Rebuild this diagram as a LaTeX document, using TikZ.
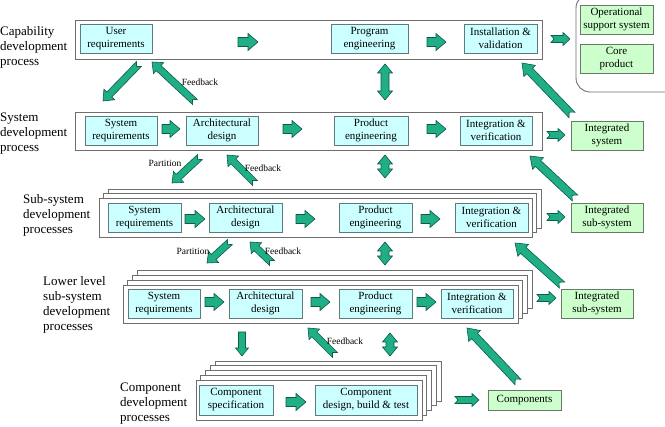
\documentclass[tikz,border=0pt]{standalone}
\usepackage{fontspec}
\setmainfont{Liberation Serif}
\usetikzlibrary{calc}
\definecolor{boxcyan}{HTML}{CCFFFF}
\definecolor{boxgreen}{HTML}{CCFFCC}
\definecolor{cyanline}{HTML}{5F7A7A}
\definecolor{greenline}{HTML}{6A786A}
\definecolor{arrowfill}{HTML}{1FAE85}
\definecolor{arrowline}{HTML}{0C5C46}
\definecolor{frameline}{HTML}{6E6E6E}
\tikzset{
  cbox/.style={draw=cyanline, fill=boxcyan, line width=0.9pt, minimum height=29pt, inner sep=0pt, align=center, font=\fontsize{11}{13}\selectfont},
  gbox/.style={draw=greenline, fill=boxgreen, line width=0.9pt, minimum height=29pt, inner sep=0pt, align=center, font=\fontsize{11}{13}\selectfont},
  frame/.style={draw=frameline, fill=white, line width=0.9pt, inner sep=0pt},
  fatarrow/.style={fill=arrowfill, draw=arrowline, line width=0.6pt, line join=miter},
  side/.style={anchor=west, align=left, font=\fontsize{13}{15}\selectfont, inner sep=0pt},
  fb/.style={font=\fontsize{9.5}{11}\selectfont, inner sep=0pt},
}
% start, end, body half width, head half width, head length, notch depth
\newcommand\FatArrow[6]{%
  \draw[fatarrow] ($(#1)!#3!90:(#2)$) -- ($(#2)!#5!(#1)!#3!-90:(#1)$) -- ($(#2)!#5!(#1)!#4!-90:(#1)$) -- (#2) -- ($(#2)!#5!(#1)!#4!90:(#1)$) -- ($(#2)!#5!(#1)!#3!90:(#1)$) -- ($(#1)!#3!-90:(#2)$) -- ($(#1)!#6!(#2)$) -- cycle;}
% start, end, body half width, head half width, head length
\newcommand\FatDouble[5]{%
  \draw[fatarrow] (#1) -- ($(#1)!#5!(#2)!#4!90:(#2)$) -- ($(#1)!#5!(#2)!#3!90:(#2)$) -- ($(#2)!#5!(#1)!#3!-90:(#1)$) -- ($(#2)!#5!(#1)!#4!-90:(#1)$) -- (#2) -- ($(#2)!#5!(#1)!#4!90:(#1)$) -- ($(#2)!#5!(#1)!#3!90:(#1)$) -- ($(#1)!#5!(#2)!#3!-90:(#2)$) -- ($(#1)!#5!(#2)!#4!-90:(#2)$) -- cycle;}
\newcommand\InArrow[2]{\FatArrow{#1}{#2}{4.5pt}{8.5pt}{10pt}{0pt}}
\newcommand\OutArrow[2]{\FatArrow{#1}{#2}{3.5pt}{6.5pt}{7pt}{3pt}}
\newcommand\DiagArrow[2]{\FatArrow{#1}{#2}{3.5pt}{7.5pt}{9pt}{3.5pt}}
\newcommand\BigArrow[2]{\FatArrow{#1}{#2}{4pt}{8pt}{11pt}{4pt}}
\newcommand\VDouble[2]{\FatDouble{#1}{#2}{4pt}{7.5pt}{9pt}}

\begin{document}
\begin{tikzpicture}[x=1pt, y=-1pt]
\useasboundingbox (0,0) rectangle (665,427);

% ---------- left labels ----------
\node[side] (l1) at (0,47) {Capability\\development\\process};
\node[side] (l2) at (0,133.5) {System\\development\\process};
\node[side] (l3) at (23,215.5) {Sub-system\\development\\processes};
\node[side] (l4) at (43,305) {Lower level\\sub-system\\development\\processes};
\node[side] (l5) at (120,404) {Component\\development\\processes};

% ---------- row 1 ----------
\node[frame, minimum width=467pt, minimum height=39pt] (f1) at (308.5,39.5) {};
\node[cbox, minimum width=72pt] (ur) at (116,38.5) {User\\requirements};
\node[cbox, minimum width=77pt] (pe1) at (369.5,38.5) {Program\\engineering};
\node[cbox, minimum width=73pt] (iv1) at (500.5,38.5) {Installation \&\\validation};
\node[draw=frameline, line width=0.9pt, rounded corners=14pt, minimum width=124pt, minimum height=98pt, inner sep=0pt] (cont) at (638,43) {};
\node[gbox, minimum width=73pt] (ops) at (616.5,19.5) {Operational\\support system};
\node[gbox, minimum width=73pt] (core) at (616.5,58.5) {Core\\product};

% ---------- row 2 ----------
\node[frame, minimum width=467pt, minimum height=38pt] (f2) at (308.5,131) {};
\node[cbox, minimum width=72pt] (sr2) at (121,130.5) {System\\requirements};
\node[cbox, minimum width=72pt] (ad2) at (222,130.5) {Architectural\\design};
\node[cbox, minimum width=74pt] (pe2) at (371,130.5) {Product\\engineering};
\node[cbox, minimum width=72pt] (iv2) at (496,130.5) {Integration \&\\verification};
\node[gbox, minimum width=72pt] (is2) at (607,135.5) {Integrated\\system};

% ---------- row 3 ----------
\foreach \k in {2,1} \draw[frame] ({99+4.5*\k},{198-4.5*\k}) rectangle ({532+4.5*\k},{237-4.5*\k});
\node[frame, minimum width=433pt, minimum height=39pt] (f3) at (315.5,217.5) {};
\node[cbox, minimum width=73pt] (sr3) at (144.5,217.5) {System\\requirements};
\node[cbox, minimum width=73pt] (ad3) at (245.5,217.5) {Architectural\\design};
\node[cbox, minimum width=73pt] (pe3) at (375.5,217.5) {Product\\engineering};
\node[cbox, minimum width=73pt] (iv3) at (491.5,217.5) {Integration \&\\verification};
\node[gbox, minimum width=72pt] (is3) at (607,217.5) {Integrated\\sub-system};

% ---------- row 4 ----------
\foreach \k in {3,2,1} \draw[frame] ({123+4.7*\k},{285-4.7*\k}) rectangle ({518+4.7*\k},{323-4.7*\k});
\node[frame, minimum width=395pt, minimum height=38pt] (f4) at (320.5,304) {};
\node[cbox, minimum width=72pt] (sr4) at (164,303.5) {System\\requirements};
\node[cbox, minimum width=73pt] (ad4) at (265.5,303.5) {Architectural\\design};
\node[cbox, minimum width=73pt] (pe4) at (375.5,303.5) {Product\\engineering};
\node[cbox, minimum width=72pt] (iv4) at (477,303.5) {Integration \&\\verification};
\node[gbox, minimum width=72pt] (is4) at (597,303.5) {Integrated\\sub-system};

% ---------- row 5 ----------
\foreach \k in {4,3,2,1} \draw[frame] ({196+4.75*\k},{380-4.75*\k}) rectangle ({422+4.75*\k},{420-4.75*\k});
\node[frame, minimum width=226pt, minimum height=40pt] (f5) at (309,400) {};
\node[cbox, minimum width=74pt, minimum height=30pt] (cs) at (236,400) {Component\\specification};
\node[cbox, minimum width=102pt, minimum height=30pt] (cd) at (366,400) {Component\\design, build \& test};
\node[gbox, minimum width=73pt, minimum height=20pt] (comp) at (524.5,400) {Components};

% ---------- arrow end points ----------
\coordinate (h1a) at (238,42);  \coordinate (h1b) at (258,42);
\coordinate (h1c) at (427,42);  \coordinate (h1d) at (446,42);
\coordinate (o1a) at (551,39);  \coordinate (o1b) at (570,39);
\coordinate (h2a) at (162,129); \coordinate (h2b) at (180,129);
\coordinate (h2c) at (283,129); \coordinate (h2d) at (302,129);
\coordinate (h2e) at (427,129); \coordinate (h2f) at (446,129);
\coordinate (o2a) at (547,135); \coordinate (o2b) at (565,135);
\coordinate (h3a) at (185,219); \coordinate (h3b) at (205,219);
\coordinate (h3c) at (296,219); \coordinate (h3d) at (315,219);
\coordinate (h3e) at (421,219); \coordinate (h3f) at (440,219);
\coordinate (o3a) at (547,217); \coordinate (o3b) at (565,217);
\coordinate (h4a) at (205,302); \coordinate (h4b) at (224,302);
\coordinate (h4c) at (311,302); \coordinate (h4d) at (330,302);
\coordinate (h4e) at (417,302); \coordinate (h4f) at (436,302);
\coordinate (o4a) at (537,298); \coordinate (o4b) at (556,298);
\coordinate (h5a) at (286,402); \coordinate (h5b) at (306,402);
\coordinate (o5a) at (455,400); \coordinate (o5b) at (479,400);

\coordinate (d1a) at (139,64);  \coordinate (d1b) at (103,101);
\coordinate (d2a) at (195,102); \coordinate (d2b) at (152,62);
\coordinate (d3a) at (200,157); \coordinate (d3b) at (172,183);
\coordinate (d4a) at (255,183); \coordinate (d4b) at (227,155);
\coordinate (d5a) at (230,242); \coordinate (d5b) at (207,263);
\coordinate (d6a) at (272,263); \coordinate (d6b) at (250,242);
\coordinate (d7a) at (242,332); \coordinate (d7b) at (242,356);
\coordinate (d8a) at (335,355); \coordinate (d8b) at (308,328);
\coordinate (v1a) at (385,64);  \coordinate (v1b) at (385,100);
\coordinate (v2a) at (385,155); \coordinate (v2b) at (385,178);
\coordinate (v3a) at (385,242); \coordinate (v3b) at (385,265);
\coordinate (v4a) at (390,333); \coordinate (v4b) at (390,356);
\coordinate (r1a) at (572,115); \coordinate (r1b) at (522,63);
\coordinate (r2a) at (575,198); \coordinate (r2b) at (530,156);
\coordinate (r3a) at (562,285); \coordinate (r3b) at (515,243);
\coordinate (r4a) at (518,382); \coordinate (r4b) at (467,328);

% ---------- horizontal arrows ----------
\InArrow{h1a}{h1b} \InArrow{h1c}{h1d} \OutArrow{o1a}{o1b}
\InArrow{h2a}{h2b} \InArrow{h2c}{h2d} \InArrow{h2e}{h2f} \OutArrow{o2a}{o2b}
\InArrow{h3a}{h3b} \InArrow{h3c}{h3d} \InArrow{h3e}{h3f} \OutArrow{o3a}{o3b}
\InArrow{h4a}{h4b} \InArrow{h4c}{h4d} \InArrow{h4e}{h4f} \OutArrow{o4a}{o4b}
\InArrow{h5a}{h5b} \OutArrow{o5a}{o5b}

% ---------- diagonal / vertical arrows ----------
\DiagArrow{d1a}{d1b} \DiagArrow{d2a}{d2b}
\DiagArrow{d3a}{d3b} \DiagArrow{d4a}{d4b}
\DiagArrow{d5a}{d5b} \DiagArrow{d6a}{d6b}
\FatArrow{d7a}{d7b}{3.5pt}{6.5pt}{8pt}{0pt}
\DiagArrow{d8a}{d8b}
\VDouble{v1a}{v1b} \VDouble{v2a}{v2b} \VDouble{v3a}{v3b} \VDouble{v4a}{v4b}
\BigArrow{r1a}{r1b} \BigArrow{r2a}{r2b} \BigArrow{r3a}{r3b} \BigArrow{r4a}{r4b}

% ---------- arrow labels ----------
\node[fb] (t1) at (200,82) {Feedback};
\node[fb] (t2) at (165,163) {Partition};
\node[fb] (t3) at (263,168) {Feedback};
\node[fb] (t4) at (193,251) {Partition};
\node[fb] (t5) at (283,251) {Feedback};
\node[fb] (t6) at (345,341) {Feedback};
\end{tikzpicture}
\end{document}
